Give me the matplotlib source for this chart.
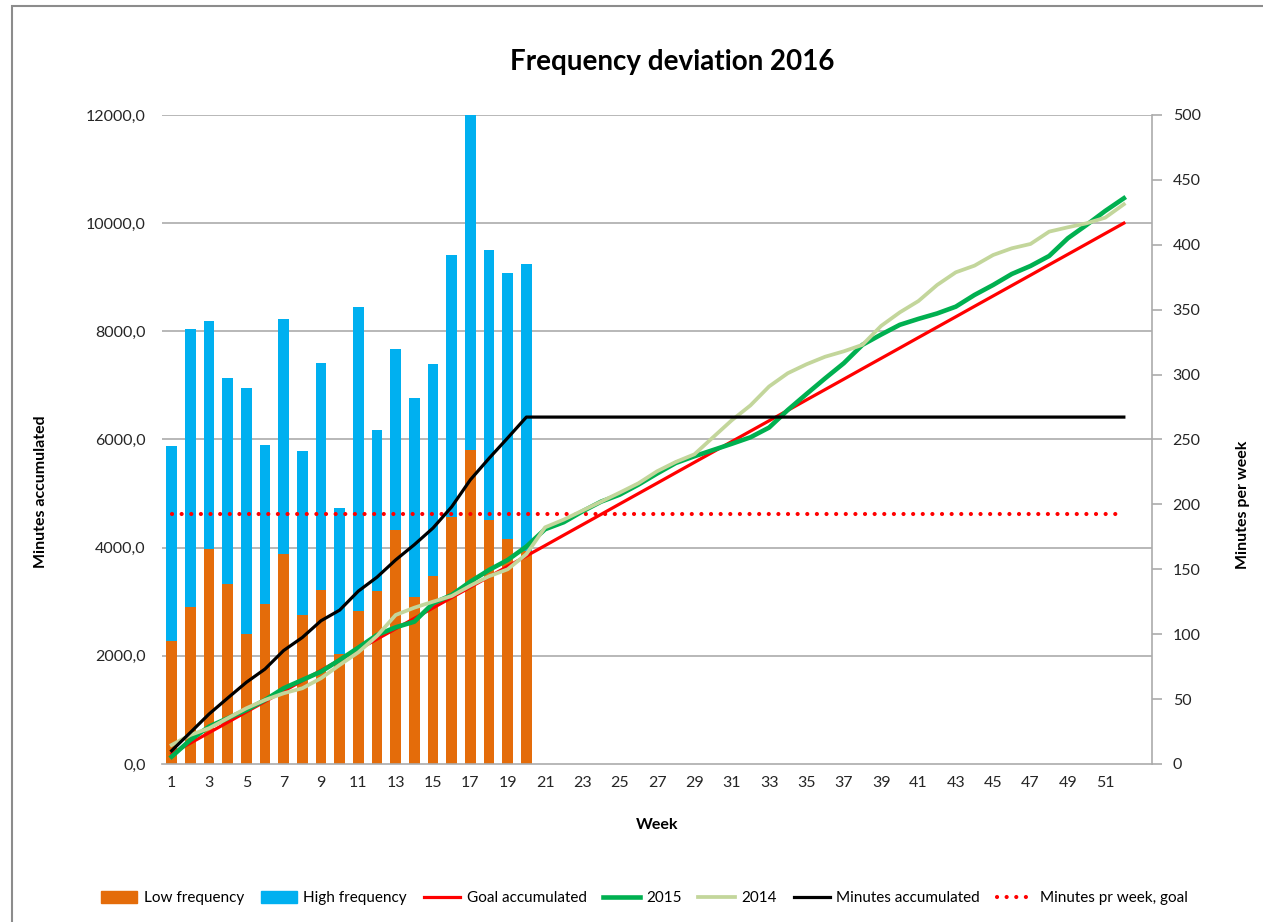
import matplotlib
matplotlib.use("Agg")
import matplotlib.pyplot as plt
from matplotlib.patches import Rectangle, Patch
from matplotlib.lines import Line2D
from matplotlib.ticker import FuncFormatter, MultipleLocator

plt.rcParams['font.family'] = ['Lato', 'DejaVu Sans']

weeks = list(range(1, 53))
bar_weeks = list(range(1, 21))
low_freq = [95, 121, 166, 139, 100, 123, 162, 115, 134, 85,
            118, 133, 180, 129, 145, 190, 242, 188, 173, 164]
high_freq = [150, 214, 175, 158, 190, 123, 181, 126, 175, 112,
             234, 124, 140, 153, 163, 202, 258, 208, 205, 221]
goal_acc = [192, 385, 577, 769, 962, 1154, 1346, 1538, 1731, 1923,
            2115, 2308, 2500, 2692, 2885, 3077, 3269, 3462, 3654, 3846,
            4038, 4231, 4423, 4615, 4808, 5000, 5192, 5385, 5577, 5769,
            5962, 6154, 6346, 6538, 6731, 6923, 7115, 7308, 7500, 7692,
            7885, 8077, 8269, 8462, 8654, 8846, 9038, 9231, 9423, 9615,
            9808, 10000]
y2015 = [135, 444, 690, 845, 998, 1183, 1400, 1553, 1707, 1923,
         2151, 2385, 2527, 2631, 2971, 3125, 3371, 3587, 3772, 4020,
         4340, 4470, 4670, 4850, 4980, 5165, 5370, 5565, 5690, 5805,
         5920, 6040, 6220, 6545, 6840, 7130, 7410, 7750, 7940, 8120,
         8230, 8330, 8456, 8672, 8857, 9060, 9208, 9393, 9720, 9966,
         10225, 10460]
y2014 = [351, 536, 660, 845, 1030, 1183, 1307, 1400, 1585, 1830,
         2065, 2367, 2755, 2890, 3001, 3106, 3297, 3470, 3600, 3880,
         4375, 4518, 4684, 4850, 5017, 5190, 5412, 5584, 5726, 6041,
         6355, 6630, 6980, 7225, 7390, 7530, 7630, 7750, 8100, 8350,
         8560, 8857, 9091, 9214, 9411, 9535, 9615, 9843, 9923, 9997,
         10101, 10349]
minutes_acc = [245, 581, 922, 1218, 1509, 1755, 2098, 2339, 2648, 2845,
               3196, 3454, 3773, 4055, 4363, 4755, 5255, 5651, 6029, 6414,
               6414, 6414, 6414, 6414, 6414, 6414, 6414, 6414, 6414, 6414,
               6414, 6414, 6414, 6414, 6414, 6414, 6414, 6414, 6414, 6414,
               6414, 6414, 6414, 6414, 6414, 6414, 6414, 6414, 6414, 6414,
               6414, 6414]
goal_per_week = [192.3] * 52
xtick_labels = [str(w) for w in range(1, 52, 2)]

c_low = '#E46C0A'
c_high = '#00B0F0'
c_goal = '#FF0000'
c_2015 = '#00B050'
c_2014 = '#C3D69B'
grid_c = '#ABABAB'
dot_style = (0, (0.01, 2.3))

fig = plt.figure(figsize=(12.63, 9.22), dpi=100)
ax = fig.add_axes([0.1285, 0.1714, 0.912 - 0.1285, 0.8753 - 0.1714])
ax2 = ax.twinx()

# bars on per-week axis
ax.bar(bar_weeks, low_freq, width=0.57, color=c_low, zorder=2)
ax.bar(bar_weeks, high_freq, width=0.57, bottom=low_freq, color=c_high, zorder=2)
ax.set_ylim(0, 500)
ax.set_xlim(0.5, 53.5)
for k in range(1, 7):
    ax.axhline(500 / 12000 * 2000 * k, color=grid_c, lw=1.2, zorder=1)
ax.plot(weeks, goal_per_week, color=c_goal, lw=3.0,
        linestyle=dot_style, dash_capstyle='round', zorder=3)

ax.yaxis.tick_right()
ax.yaxis.set_label_position('right')
ax.yaxis.set_major_locator(MultipleLocator(50))
ax.tick_params(axis='y', which='major', direction='out', length=7, width=1.2,
               color=grid_c, pad=8, labelsize=11.5, labelcolor='#262626')
ax.set_xticks(list(range(1, 52, 2)))
ax.set_xticklabels(xtick_labels)
ax.tick_params(axis='x', length=0, pad=9, labelsize=11.5, labelcolor='#262626')
for s in ['top', 'left']:
    ax.spines[s].set_visible(False)
ax.spines['right'].set_color(grid_c)
ax.spines['right'].set_linewidth(1.2)
ax.spines['bottom'].set_color(grid_c)
ax.spines['bottom'].set_linewidth(1.2)

# lines on accumulated axis
ax2.plot(weeks, goal_acc, color=c_goal, lw=2.3, zorder=3)
ax2.plot(weeks, y2015, color=c_2015, lw=3.3, zorder=4)
ax2.plot(weeks, y2014, color=c_2014, lw=2.7, zorder=5)
ax2.plot(weeks, minutes_acc, color='black', lw=2.3, zorder=6)
ax2.set_ylim(0, 12000)
ax2.yaxis.tick_left()
ax2.yaxis.set_label_position('left')
ax2.yaxis.set_major_locator(MultipleLocator(2000))
ax2.yaxis.set_major_formatter(FuncFormatter(lambda v, p: f"{v:.1f}".replace('.', ',')))
ax2.tick_params(axis='y', length=0, pad=12, labelsize=11.5, labelcolor='#262626')
for s in ['top', 'left', 'right', 'bottom']:
    ax2.spines[s].set_visible(False)

ax2.set_ylabel('Minutes accumulated', fontsize=11.5, fontweight='bold', labelpad=42)
ax2.yaxis.set_label_coords(-0.115, 0.42)
ax.set_ylabel('Minutes per week', fontsize=11.5, fontweight='bold')
ax.yaxis.set_label_coords(1.085, 0.40)
ax.set_xlabel('Week', fontsize=11.5, fontweight='bold', labelpad=20)

fig.text(0.532, 0.933, 'Frequency deviation 2016', ha='center', va='center',
         fontsize=20, fontweight='bold', color='black')

handles = [
    Patch(color=c_low, label='Low frequency'),
    Patch(color=c_high, label='High frequency'),
    Line2D([], [], color=c_goal, lw=2.3, label='Goal accumulated'),
    Line2D([], [], color=c_2015, lw=3.3, label='2015'),
    Line2D([], [], color=c_2014, lw=2.7, label='2014'),
    Line2D([], [], color='black', lw=2.3, label='Minutes accumulated'),
    Line2D([], [], color=c_goal, lw=3.0, linestyle=dot_style,
           dash_capstyle='round', label='Minutes pr week, goal'),
]
fig.legend(handles=handles, loc='center', bbox_to_anchor=(0.51, 0.026), ncol=7,
           frameon=False, fontsize=11, handlelength=2.4, handletextpad=0.4,
           columnspacing=1.1, handleheight=0.9)

fig.patches.append(Rectangle((12 / 1263, -0.1), 1.5, 1.1 - 6 / 922,
                             transform=fig.transFigure, fill=False,
                             edgecolor='#8C8C8C', lw=1.5, clip_on=False))

fig.savefig('out.png', dpi=100, facecolor='white')
